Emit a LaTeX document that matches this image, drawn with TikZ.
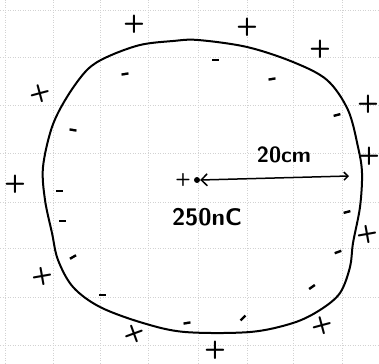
\documentclass[tikz,border=0pt]{standalone}
\usetikzlibrary{arrows.meta}
\begin{document}
\begin{tikzpicture}[x=1pt,y=-1pt,
  gridln/.style={gray!35,line width=0.5pt,dotted},
  shell/.style={line width=2pt,line join=round},
  pcharge/.style={font=\sffamily\bfseries\fontsize{25}{25}\selectfont,inner sep=0pt},
  ncharge/.style={fill=black,minimum width=7pt,minimum height=2.4pt,inner sep=0pt},
  lbl/.style={font=\sffamily\bfseries\fontsize{22}{22}\selectfont,inner sep=0pt}]
\useasboundingbox (0,0) rectangle (379,363);
% grid paper
\foreach \x in {5,53,100,148,198,247,293,342} \draw[gridln] (\x,0) -- (\x,363);
\foreach \y in {10,57,105,153,202,248,297,345} \draw[gridln] (0,\y) -- (379,\y);
% spherical shell
\draw[shell] plot[smooth cycle,tension=0.55] coordinates {
 (198,40) (247,47) (293,62) (327,80) (348,110) (358,147) (362,173) (360,207)
 (353,243) (350,267) (340,293) (320,310) (293,323) (250,332) (185,332)
 (143,323) (100,307) (73,287) (58,260) (52,233) (45,200) (43,167) (52,127)
 (67,97) (87,70) (107,57) (140,45) (173,41)};
% positive charges outside
\node[pcharge] (p1) at (134,24) {+};
\node[pcharge] (p2) at (247,27) {+};
\node[pcharge] (p3) at (320,49) {+};
\node[pcharge] (p4) at (368,104) {+};
\node[pcharge] (p5) at (369,156) {+};
\node[pcharge] (p6) at (15,184) {+};
\node[pcharge,rotate=15] (p7) at (40,94) {+};
\node[pcharge,rotate=10] (p8) at (367,234) {+};
\node[pcharge,rotate=10] (p9) at (42,276) {+};
\node[pcharge,rotate=20] (p10) at (134,334) {+};
\node[pcharge,rotate=15] (p11) at (322,326) {+};
\node[pcharge] (p12) at (215,350) {+};
% negative charges inside
\node[ncharge] (n1) at (215,60) {};
\node[ncharge,rotate=10] (n2) at (272,79) {};
\node[ncharge,rotate=10] (n3) at (125,74) {};
\node[ncharge,rotate=-10] (n4) at (73,130) {};
\node[ncharge,rotate=15] (n5) at (337,115) {};
\node[ncharge] (n6) at (59,191) {};
\node[ncharge] (n7) at (62,221) {};
\node[ncharge,rotate=30] (n8) at (73,257) {};
\node[ncharge] (n9) at (102,295) {};
\node[ncharge,rotate=10] (n10) at (187,323) {};
\node[ncharge,rotate=45] (n11) at (243,318) {};
\node[ncharge,rotate=35] (n12) at (312,287) {};
\node[ncharge,rotate=20] (n13) at (338,252) {};
\node[ncharge,rotate=15] (n14) at (347,212) {};
% central charge
\node[circle,fill,inner sep=0pt,minimum size=6pt] (q) at (197,180) {};
\node[font=\sffamily\bfseries\fontsize{18}{18}\selectfont,inner sep=0pt] (qs) at (183,180) {+};
\coordinate (r) at (349,176);
\draw[line width=1.5pt,{Straight Barb[length=6pt,width=12pt,line width=1.5pt]}-{Straight Barb[length=4pt,width=8pt,line width=1.5pt]}]
  (q.east) -- (r);
\node[lbl] (d) at (284,155) {20cm};
\node[lbl,font=\sffamily\bfseries\fontsize{24}{24}\selectfont] (qlab) at (207,217) {250nC};
\end{tikzpicture}
\end{document}
